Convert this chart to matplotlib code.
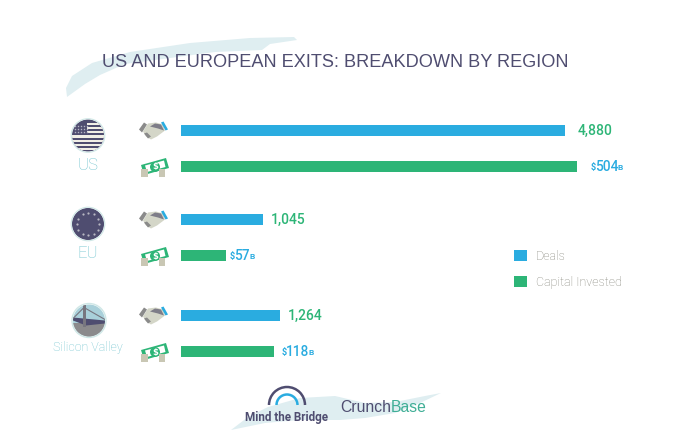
import matplotlib
matplotlib.use("Agg")
import matplotlib.pyplot as plt
from matplotlib.patches import Circle, Polygon, Rectangle, Arc
from matplotlib.path import Path

regions = ["US", "EU", "Silicon Valley"]
deals = [4880, 1045, 1264]
capital = [504, 57, 118]
deal_labels = ["4,880", "1,045", "1,264"]
capital_labels = ["504", "57", "118"]
legend_labels = ["Deals", "Capital Invested"]
title = "US AND EUROPEAN EXITS: BREAKDOWN BY REGION"

W, H = 680, 443
BLUE, GREEN, NAVY = "#2AACE0", "#2DB577", "#4F4D70"
TEAL, SAND = "#6FC3CE", "#C9C7B4"
WASH = "#DFEEF1"
NARROW = ["Roboto", "Liberation Sans"]

y_deals = [130.5, 219.5, 315.5]
y_cap = [166.5, 255.5, 351.5]
deal_gap = [13, 8, 7]
cap_gap = [14, 4, 8]
region_size = [12, 12, 9]
X0, X1 = 181, 640
PT = 72 / 100  # points per pixel

fig = plt.figure(figsize=(W / 100, H / 100), dpi=100, facecolor="white")
bg = fig.add_axes([0, 0, 1, 1])
bg.set_xlim(0, W); bg.set_ylim(H, 0); bg.axis("off")

# data axes: two independent value scales sharing the pixel-based rows
ax = fig.add_axes([X0 / W, 0, (X1 - X0) / W, 1])
ax.patch.set_alpha(0)
ax.set_ylim(H, 0)
ax.set_xlim(0, (X1 - X0) * 4880 / 383.5)
ax.axis("off")
ax2 = ax.twiny()
ax2.set_ylim(H, 0)
ax2.set_xlim(0, (X1 - X0) * 504 / 395.5)
ax2.axis("off")
b1 = ax.barh(y_deals, deals, height=11, color=BLUE)
b2 = ax2.barh(y_cap, capital, height=11, color=GREEN)

# value labels
for v, y, t, g in zip(deals, y_deals, deal_labels, deal_gap):
    ax.annotate(t, (v, y), xytext=(g * PT, 0), textcoords="offset points", va="center", ha="left",
                fontsize=10, color=GREEN, family=NARROW, fontweight="medium")
for v, y, t, g in zip(capital, y_cap, capital_labels, cap_gap):
    a = ax2.annotate("$", (v, y), xytext=(g * PT, -0.5), textcoords="offset points", va="center", ha="left",
                     fontsize=6.5, color=BLUE, family=NARROW, fontweight="bold")
    b = ax2.annotate(t, (1, 0.5), xycoords=a, xytext=(-0.3, 0.5), textcoords="offset points", va="center",
                     ha="left", fontsize=9.8, color=BLUE, family=NARROW, fontweight="medium")
    ax2.annotate("B", (1, 0.5), xycoords=b, xytext=(-0.6, -1), textcoords="offset points", va="center",
                 ha="left", fontsize=6, color=BLUE, family=NARROW, fontweight="bold")

# title and brush
bg.add_patch(Polygon([(67, 97), (66, 88), (72, 76), (92, 63), (130, 52), (190, 43), (250, 38), (294, 37),
                      (297, 40), (270, 44), (262, 50), (215, 52), (170, 58), (125, 64), (100, 75),
                      (85, 84)], closed=True, color=WASH, lw=0))
fig.text(102 / W, 1 - 62.5 / H, title, fontsize=13.05, color=NAVY, family="Liberation Sans",
         va="center", ha="left")

# region badges
RING = "#CFE7E6"

def us(cx, cy, r=16):
    c = Circle((cx, cy), r, color=NAVY, lw=0); bg.add_patch(c)
    bg.add_patch(Circle((cx, cy), r + .8, fill=False, ec=RING, lw=.8))
    for i in range(7):
        yy = cy - r + 3 + i * 4.3
        x0 = cx - 1 if i < 3 else cx - r
        s = Rectangle((x0, yy), cx + r - x0, 2.1, color="#F1EFE6", lw=0)
        bg.add_patch(s); s.set_clip_path(c)
    for i in range(5):
        for j in range(3):
            bg.plot(cx - 13 + i * 2.9, cy - 10 + j * 3.4, "s", ms=1, color="#B5B4C4", mew=0)

def eu(cx, cy, r=16):
    bg.add_patch(Circle((cx, cy), r, color=NAVY, lw=0))
    bg.add_patch(Circle((cx, cy), r + .8, fill=False, ec=RING, lw=.8))
    for px, py in Path.unit_regular_polygon(12).vertices[:12]:
        bg.plot(cx + 11 * px, cy + 11 * py, "o", ms=1.6, color="#B8B7C2", mew=0)

def sv(cx, cy, r=16):
    c = Circle((cx, cy), r, color="#A9D0DA", lw=0); bg.add_patch(c)
    bg.add_patch(Circle((cx, cy), r + 1, fill=False, ec=RING, lw=1))
    low = Rectangle((cx - r, cy + 2), 2 * r, r, color="#8B8A8C", lw=0); bg.add_patch(low); low.set_clip_path(c)
    deck = Polygon([(cx - r, cy - 3), (cx + r, cy + 0), (cx + r, cy + 3), (cx - 3, cy + 5), (cx - r, cy)],
                   color=NAVY, lw=0); bg.add_patch(deck); deck.set_clip_path(c)
    tower = Rectangle((cx - 6, cy - r), 2.5, 2 * r - 10, color="#77767F", lw=0); bg.add_patch(tower); tower.set_clip_path(c)
    cable, = bg.plot([cx - r, cx - 5, cx + r], [cy - 2, cy - 13, cy - 1], color="#77767F", lw=.8)
    cable.set_clip_path(c)

us(88, 135.5); eu(88, 224); sv(89, 320.5)
for name, x, y, s in zip(regions, [88, 88, 88], [165, 254, 347], region_size):
    bg.text(x, y, name, fontsize=s, color=TEAL, family=NARROW, ha="center", va="center", fontweight="light")

# icons
def shake(y):
    bg.add_patch(Polygon([(143, y + 1), (148, y - 7), (156, y - 8), (163, y - 6), (165, y), (157, y + 6),
                          (151, y + 9), (146, y + 6)], color="#D4D6C8", lw=0))
    bg.add_patch(Polygon([(150, y - 4), (155, y - 7), (161, y - 6), (164, y), (158, y - 2)], color="#7E7D88", lw=0))
    bg.add_patch(Polygon([(139, y - 1), (144, y - 8), (147, y - 6), (142, y + 2)], color="#8A8A8A", lw=0))
    bg.add_patch(Polygon([(144, y + 3), (147, y + 2), (151, y + 6), (148, y + 8)], color="#8A8A8A", lw=0))
    bg.add_patch(Polygon([(161, y - 8), (163.5, y - 9), (168, y - 1), (165.5, y)], color=BLUE, lw=0))

def money(y):
    bg.add_patch(Polygon([(141, y - 1.5), (166, y - 8.5), (169, y + 1.5), (144, y + 8.5)], color=GREEN, lw=0))
    bg.add_patch(Polygon([(145, y - 1), (164, y - 6), (165.5, y + 0.5), (147, y + 5.5)], color="white", lw=0))
    bg.add_patch(Circle((155, y + 0.5), 5, color=GREEN, lw=0))
    bg.text(155, y + 0.5, "$", fontsize=6, color="white", ha="center", va="center", fontweight="bold")
    bg.add_patch(Rectangle((141, y + 2), 7, 8, color=SAND, lw=0))
    bg.add_patch(Rectangle((159, y + 2), 6, 8, color=SAND, lw=0))

for y in y_deals:
    shake(y)
for y in y_cap:
    money(y)

# legend
bg.legend([b1, b2], legend_labels, loc="upper left", bbox_to_anchor=(514 / W, 1 - 250 / H),
          bbox_transform=fig.transFigure, frameon=False, handlelength=1.0, handleheight=1.0,
          handletextpad=0.75, labelspacing=1.05, prop={"family": NARROW, "size": 9, "weight": "light"},
          labelcolor="#85857A", borderpad=0, borderaxespad=0)

# footer logos
bg.add_patch(Polygon([(231, 430), (248, 417), (268, 407), (300, 398), (335, 396), (365, 403), (395, 402),
                      (425, 396), (441, 393), (420, 403), (395, 413), (365, 418), (340, 420), (300, 420),
                      (265, 423)], closed=True, color=WASH, lw=0))
for d, col, lw in [(36, NAVY, 1.8), (21, BLUE, 1.8)]:
    bg.add_patch(Arc((287, 405), d, d, theta1=180, theta2=360, color=col, lw=lw))
bg.text(286.5, 418, "Mind the Bridge", fontsize=8.4, fontweight="bold", color=NAVY, family="Roboto",
        ha="center", va="center")
t = bg.text(340, 407, "Crunch", fontsize=11.3, color=NAVY, family="Liberation Sans", ha="left", va="center")
bg.annotate("Base", (1, 0.5), xycoords=t, va="center", ha="left", fontsize=11.3, color="#3FAE96",
            family="Liberation Sans")

fig.savefig("out.png", dpi=100)
